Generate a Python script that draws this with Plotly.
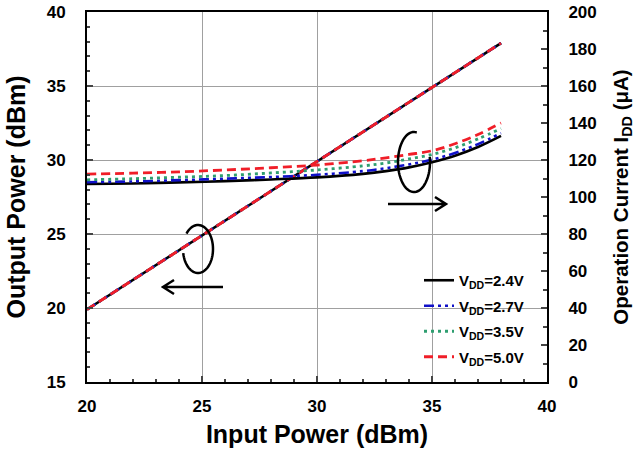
import plotly.graph_objects as go
import math

# ---- data ----
pin_power = [20, 21, 22, 23, 24, 25, 26, 27, 28, 29, 30, 31, 32, 33, 34, 35, 36, 37, 38]
pout = [19.9, 20.9, 21.9, 22.9, 23.9, 24.9, 25.9, 26.9, 27.9, 28.9, 29.9,
        30.9, 31.9, 32.9, 33.9, 34.9, 35.9, 36.9, 37.9]

pin_cur = [20, 22, 24, 26, 28, 30, 32, 33, 34, 35, 36, 37, 38]
idd_24 = [107, 107.3, 107.9, 108.6, 109.5, 110.6, 112.5, 114, 116, 118.8, 122.3, 127, 133]
idd_27 = [108, 108.4, 109.1, 109.9, 110.8, 112, 114, 115.6, 117.6, 120.2, 123.8, 128.6, 134.5]
idd_35 = [109.3, 109.9, 110.7, 111.6, 113, 114.6, 116.8, 118.4, 120.6, 123, 126.6, 131.4, 137]
idd_50 = [112.4, 112.9, 113.6, 114.6, 115.8, 117.3, 119.6, 121.2, 123, 125, 128.8, 133.8, 140]

labels = ["V<sub>DD</sub>=2.4V", "V<sub>DD</sub>=2.7V", "V<sub>DD</sub>=3.5V", "V<sub>DD</sub>=5.0V"]
currents = [idd_24, idd_27, idd_35, idd_50]

x_ticks = [20, 25, 30, 35, 40]
y_ticks = [15, 20, 25, 30, 35, 40]
y2_ticks = [0, 20, 40, 60, 80, 100, 120, 140, 160, 180, 200]

# ---- styles ----
styles = [
    dict(color="#000000", dash="solid", width=2.6),
    dict(color="#1010C8", dash="10px,4px,3px,4px,3px,4px", width=2.6),
    dict(color="#2E9E70", dash="3px,4px", width=2.8),
    dict(color="#F01E28", dash="9px,5px", width=2.8),
]
FONT = "Liberation Sans, Arial, sans-serif"

fig = go.Figure()
for i in [0, 2, 1, 3]:
    fig.add_trace(go.Scatter(x=pin_power, y=pout, mode="lines", line=styles[i],
                             showlegend=False, legendgroup=f"g{i}", hoverinfo="skip"))
for i in range(4):
    fig.add_trace(go.Scatter(x=pin_cur, y=currents[i], mode="lines", line=styles[i],
                             line_shape="spline", name=labels[i], yaxis="y2",
                             legendgroup=f"g{i}"))

# ---- decorations (pixel -> paper helpers) ----
L, R, T, B = 87, 547, 12, 382
def px(x):
    return (x - L) / (R - L)
def py(y):
    return (B - y) / (B - T)

def arc_path(cx, cy, rx, ry, t0, t1, n=60):
    pts = []
    for k in range(n + 1):
        t = math.radians(t0 + (t1 - t0) * k / n)
        pts.append((px(cx + rx * math.cos(t)), py(cy - ry * math.sin(t))))
    return "M" + " L".join(f"{a:.5f},{b:.5f}" for a, b in pts)

def arrow_path(x0, x1, y):
    d = 1 if x1 > x0 else -1
    return (f"M{px(x0):.5f},{py(y):.5f} L{px(x1):.5f},{py(y):.5f} "
            f"M{px(x1 - d*11):.5f},{py(y-7):.5f} L{px(x1):.5f},{py(y):.5f} L{px(x1 - d*11):.5f},{py(y+7):.5f}")

shapes = [
    dict(type="path", xref="paper", yref="paper", path=arc_path(198, 249, 15, 24, 190, 500),
         line=dict(color="black", width=2.5)),
    dict(type="path", xref="paper", yref="paper", path=arrow_path(223, 163, 287),
         line=dict(color="black", width=2.5)),
    dict(type="path", xref="paper", yref="paper", path=arc_path(414, 162, 16, 30, 80, 370),
         line=dict(color="black", width=2.5)),
    dict(type="path", xref="paper", yref="paper", path=arrow_path(388, 446, 204),
         line=dict(color="black", width=2.5)),
]

fig.update_layout(
    width=643, height=458,
    margin=dict(l=L, r=643 - R, t=T, b=458 - B, autoexpand=False),
    paper_bgcolor="white", plot_bgcolor="white",
    font=dict(family=FONT, color="black", size=17, weight="bold"),
    shapes=shapes,
    showlegend=True,
    legend=dict(x=px(419), y=py(264), xanchor="left", yanchor="top",
                bgcolor="rgba(0,0,0,0)", font=dict(size=15, family=FONT, weight="bold"),
                tracegroupgap=3, itemwidth=30),
    xaxis=dict(range=[20, 40], tickvals=x_ticks, ticks="inside", ticklen=6, tickwidth=1.5,
               showgrid=True, gridcolor="#A0A0A0", gridwidth=1, automargin=False,
               showline=True, linecolor="black", linewidth=2, mirror=True,
               minor=dict(dtick=1, ticks="inside", ticklen=3, showgrid=False),
               ticklabelstandoff=8, zeroline=False,
               title=dict(text="Input Power (dBm)", font=dict(size=25, family=FONT, weight="bold"),
                          standoff=10)),
    yaxis=dict(range=[15, 40], tickvals=y_ticks, ticks="inside", ticklen=6, tickwidth=1.5,
               showgrid=True, gridcolor="#A0A0A0", gridwidth=1, automargin=False,
               showline=True, linecolor="black", linewidth=2, mirror=True,
               minor=dict(dtick=1, ticks="inside", ticklen=3, showgrid=False),
               ticklabelstandoff=16, zeroline=False,
               title=dict(text="Output Power (dBm)", font=dict(size=25, family=FONT, weight="bold"),
                          standoff=14)),
    yaxis2=dict(range=[0, 200], tickvals=y2_ticks, overlaying="y", side="right",
                ticks="inside", ticklen=6, tickwidth=1.5, showgrid=False, automargin=False,
                showline=True, linecolor="black", linewidth=2,
                minor=dict(dtick=10, ticks="inside", ticklen=4, showgrid=False),
                ticklabelstandoff=16, zeroline=False,
                title=dict(text="Operation Current I<sub>DD</sub> (μA)",
                           font=dict(size=20.5, family=FONT, weight="bold"), standoff=18)),
)

fig.write_html("out.html")
